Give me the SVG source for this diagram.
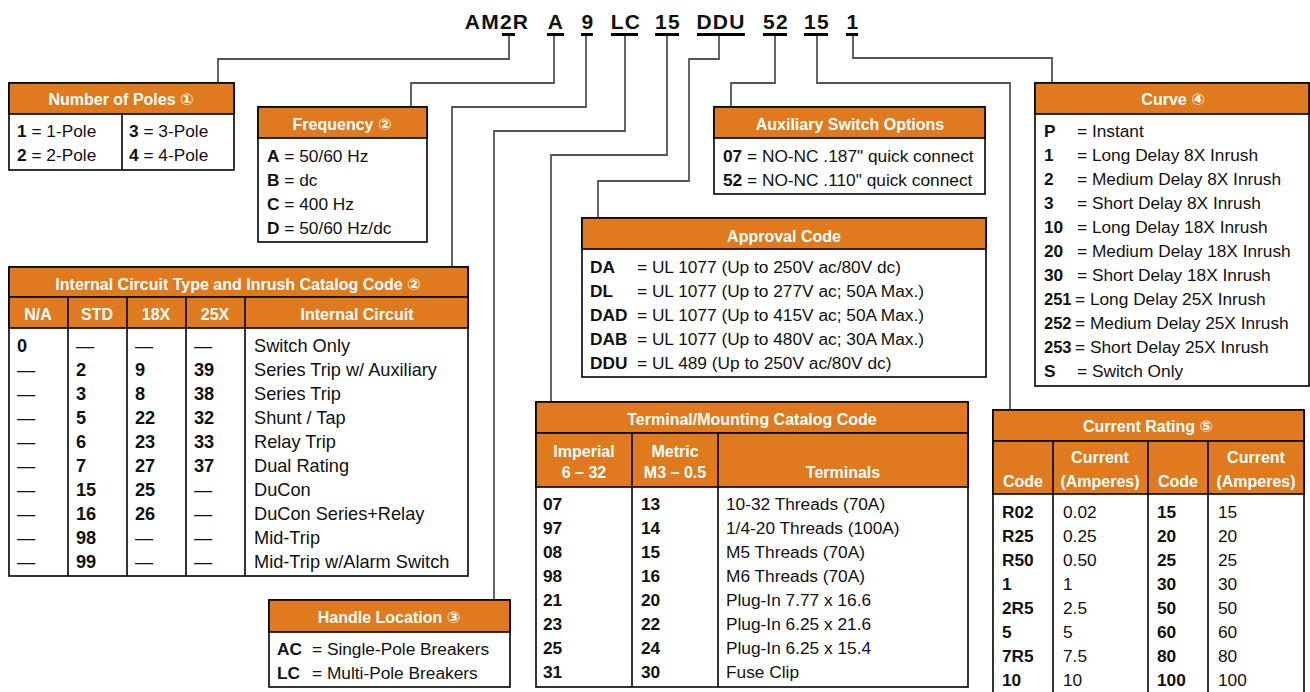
<svg xmlns="http://www.w3.org/2000/svg" width="1310" height="692" viewBox="0 0 1310 692">
<style>
text{font-family:"Liberation Sans","DejaVu Sans",sans-serif;fill:#111}
.t{font-size:17.3px}
.ti{font-size:18.2px}
.b{font-weight:bold}
.h{font-weight:bold;font-size:16px;fill:#fff;text-anchor:middle}
.code{font-weight:bold;font-size:21px;letter-spacing:1.2px;text-anchor:middle}
.box{fill:#fff;stroke:#000;stroke-width:1.6}
.hd{fill:#DF7A1E;stroke:#000;stroke-width:1.6}
.ln{stroke:#000;stroke-width:1.6;fill:none}
.cn{stroke:#555;stroke-width:1.8;fill:none}
.ul{fill:#000}
</style>
<rect width="1310" height="692" fill="#fff"/>

<g id="code">
<text class="code" x="497" y="29">AM2R</text>
<text class="code" x="556" y="29">A</text>
<text class="code" x="588" y="29">9</text>
<text class="code" x="626" y="29">LC</text>
<text class="code" x="668" y="29">15</text>
<text class="code" x="721" y="29">DDU</text>
<text class="code" x="776" y="29">52</text>
<text class="code" x="817" y="29">15</text>
<text class="code" x="853" y="29">1</text>
<rect class="ul" x="502" y="33" width="13" height="3"/>
<rect class="ul" x="547" y="33" width="17" height="3"/>
<rect class="ul" x="581" y="33" width="12" height="3"/>
<rect class="ul" x="611" y="33" width="27" height="3"/>
<rect class="ul" x="655" y="33" width="24" height="3"/>
<rect class="ul" x="697" y="33" width="48" height="3"/>
<rect class="ul" x="763" y="33" width="24" height="3"/>
<rect class="ul" x="804" y="33" width="24" height="3"/>
<rect class="ul" x="846" y="33" width="12" height="3"/>
</g>

<g id="connectors">
<polyline class="cn" points="509,36 509,59 218,59 218,83"/>
<polyline class="cn" points="554,36 554,83 411,83 411,107"/>
<polyline class="cn" points="586,36 586,107 452,107 452,267"/>
<polyline class="cn" points="625,36 625,131 494,131 494,600"/>
<polyline class="cn" points="667,36 667,155 551,155 551,402"/>
<polyline class="cn" points="719,36 719,59 689,59 689,181 598,181 598,218"/>
<polyline class="cn" points="775,36 775,83 731,83 731,107"/>
<polyline class="cn" points="817,36 817,83 1010,83 1010,410"/>
<polyline class="cn" points="853,36 853,58 1052,58 1052,83"/>
</g>

<g id="poles">
<rect class="box" x="9" y="83" width="225" height="87"/>
<rect class="hd" x="9" y="83" width="225" height="31"/>
<line class="ln" x1="122" y1="114" x2="122" y2="170"/>
<text class="h" x="121" y="105">Number of Poles ①</text>
<text class="t" x="17" y="137"><tspan class="b">1</tspan> = 1-Pole</text>
<text class="t" x="17" y="161"><tspan class="b">2</tspan> = 2-Pole</text>
<text class="t" x="129" y="137"><tspan class="b">3</tspan> = 3-Pole</text>
<text class="t" x="129" y="161"><tspan class="b">4</tspan> = 4-Pole</text>
</g>

<g id="frequency">
<rect class="box" x="258" y="107" width="169" height="135"/>
<rect class="hd" x="258" y="107" width="169" height="31"/>
<text class="h" x="342" y="130">Frequency ②</text>
<text class="t" x="267" y="162"><tspan class="b">A</tspan> = 50/60 Hz</text>
<text class="t" x="267" y="186"><tspan class="b">B</tspan> = dc</text>
<text class="t" x="267" y="210"><tspan class="b">C</tspan> = 400 Hz</text>
<text class="t" x="267" y="234"><tspan class="b">D</tspan> = 50/60 Hz/dc</text>
</g>

<g id="internal">
<rect class="box" x="9" y="267" width="459" height="309"/>
<rect class="hd" x="9" y="267" width="459" height="30"/>
<rect class="hd" x="9" y="297" width="459" height="31"/>
<line class="ln" x1="68" y1="297" x2="68" y2="576"/>
<line class="ln" x1="127" y1="297" x2="127" y2="576"/>
<line class="ln" x1="186" y1="297" x2="186" y2="576"/>
<line class="ln" x1="245" y1="297" x2="245" y2="576"/>
<text class="h" x="238" y="290">Internal Circuit Type and Inrush Catalog Code ②</text>
<text class="h" x="38" y="320">N/A</text>
<text class="h" x="97" y="320">STD</text>
<text class="h" x="156" y="320">18X</text>
<text class="h" x="215" y="320">25X</text>
<text class="h" x="357" y="320">Internal Circuit</text>
<g class="ti">
<text x="17" y="352" class="b">0</text><text x="76" y="352">—</text><text x="135" y="352">—</text><text x="194" y="352">—</text><text x="254" y="352">Switch Only</text>
<text x="17" y="376">—</text><text x="76" y="376" class="b">2</text><text x="135" y="376" class="b">9</text><text x="194" y="376" class="b">39</text><text x="254" y="376">Series Trip w/ Auxiliary</text>
<text x="17" y="400">—</text><text x="76" y="400" class="b">3</text><text x="135" y="400" class="b">8</text><text x="194" y="400" class="b">38</text><text x="254" y="400">Series Trip</text>
<text x="17" y="424">—</text><text x="76" y="424" class="b">5</text><text x="135" y="424" class="b">22</text><text x="194" y="424" class="b">32</text><text x="254" y="424">Shunt / Tap</text>
<text x="17" y="448">—</text><text x="76" y="448" class="b">6</text><text x="135" y="448" class="b">23</text><text x="194" y="448" class="b">33</text><text x="254" y="448">Relay Trip</text>
<text x="17" y="472">—</text><text x="76" y="472" class="b">7</text><text x="135" y="472" class="b">27</text><text x="194" y="472" class="b">37</text><text x="254" y="472">Dual Rating</text>
<text x="17" y="496">—</text><text x="76" y="496" class="b">15</text><text x="135" y="496" class="b">25</text><text x="194" y="496">—</text><text x="254" y="496">DuCon</text>
<text x="17" y="520">—</text><text x="76" y="520" class="b">16</text><text x="135" y="520" class="b">26</text><text x="194" y="520">—</text><text x="254" y="520">DuCon Series+Relay</text>
<text x="17" y="544">—</text><text x="76" y="544" class="b">98</text><text x="135" y="544">—</text><text x="194" y="544">—</text><text x="254" y="544">Mid-Trip</text>
<text x="17" y="568">—</text><text x="76" y="568" class="b">99</text><text x="135" y="568">—</text><text x="194" y="568">—</text><text x="254" y="568">Mid-Trip w/Alarm Switch</text>
</g>
</g>

<g id="handle">
<rect class="box" x="269" y="600" width="241" height="87"/>
<rect class="hd" x="269" y="600" width="241" height="32"/>
<text class="h" x="389" y="623">Handle Location ③</text>
<text class="t b" x="277" y="655">AC</text><text class="t" x="312" y="655">= Single-Pole Breakers</text>
<text class="t b" x="277" y="679">LC</text><text class="t" x="312" y="679">= Multi-Pole Breakers</text>
</g>

<g id="auxiliary">
<rect class="box" x="714" y="107" width="271" height="87"/>
<rect class="hd" x="714" y="107" width="271" height="31"/>
<text class="h" x="850" y="130">Auxiliary Switch Options</text>
<text class="t" x="723" y="162"><tspan class="b">07</tspan> = NO-NC .187" quick connect</text>
<text class="t" x="723" y="186"><tspan class="b">52</tspan> = NO-NC .110" quick connect</text>
</g>

<g id="approval">
<rect class="box" x="582" y="218" width="404" height="159"/>
<rect class="hd" x="582" y="218" width="404" height="31"/>
<text class="h" x="784" y="242">Approval Code</text>
<g class="t">
<text x="590" y="273" class="b">DA</text><text x="637" y="273">= UL 1077 (Up to 250V ac/80V dc)</text>
<text x="590" y="297" class="b">DL</text><text x="637" y="297">= UL 1077 (Up to 277V ac; 50A Max.)</text>
<text x="590" y="321" class="b">DAD</text><text x="637" y="321">= UL 1077 (Up to 415V ac; 50A Max.)</text>
<text x="590" y="345" class="b">DAB</text><text x="637" y="345">= UL 1077 (Up to 480V ac; 30A Max.)</text>
<text x="590" y="369" class="b">DDU</text><text x="637" y="369">= UL 489 (Up to 250V ac/80V dc)</text>
</g>
</g>

<g id="terminal">
<rect class="box" x="536" y="402" width="432" height="285"/>
<rect class="hd" x="536" y="402" width="432" height="31"/>
<rect class="hd" x="536" y="433" width="432" height="54"/>
<line class="ln" x1="632" y1="433" x2="632" y2="687"/>
<line class="ln" x1="718" y1="433" x2="718" y2="687"/>
<text class="h" x="752" y="425">Terminal/Mounting Catalog Code</text>
<text class="h" x="584" y="457">Imperial</text>
<text class="h" x="584" y="478">6 – 32</text>
<text class="h" x="675" y="457">Metric</text>
<text class="h" x="675" y="478">M3 – 0.5</text>
<text class="h" x="843" y="478">Terminals</text>
<g class="t">
<text x="543" y="510" class="b">07</text><text x="641" y="510" class="b">13</text><text x="726" y="510">10-32 Threads (70A)</text>
<text x="543" y="534" class="b">97</text><text x="641" y="534" class="b">14</text><text x="726" y="534">1/4-20 Threads (100A)</text>
<text x="543" y="558" class="b">08</text><text x="641" y="558" class="b">15</text><text x="726" y="558">M5 Threads (70A)</text>
<text x="543" y="582" class="b">98</text><text x="641" y="582" class="b">16</text><text x="726" y="582">M6 Threads (70A)</text>
<text x="543" y="606" class="b">21</text><text x="641" y="606" class="b">20</text><text x="726" y="606">Plug-In 7.77 x 16.6</text>
<text x="543" y="630" class="b">23</text><text x="641" y="630" class="b">22</text><text x="726" y="630">Plug-In 6.25 x 21.6</text>
<text x="543" y="654" class="b">25</text><text x="641" y="654" class="b">24</text><text x="726" y="654">Plug-In 6.25 x 15.4</text>
<text x="543" y="678" class="b">31</text><text x="641" y="678" class="b">30</text><text x="726" y="678">Fuse Clip</text>
</g>
</g>

<g id="curve">
<rect class="box" x="1035" y="83" width="274" height="303"/>
<rect class="hd" x="1035" y="83" width="274" height="31"/>
<text class="h" x="1173" y="105">Curve ④</text>
<g class="t">
<text x="1044" y="137" class="b">P</text><text x="1077" y="137">= Instant</text>
<text x="1044" y="161" class="b">1</text><text x="1077" y="161">= Long Delay 8X Inrush</text>
<text x="1044" y="185" class="b">2</text><text x="1077" y="185">= Medium Delay 8X Inrush</text>
<text x="1044" y="209" class="b">3</text><text x="1077" y="209">= Short Delay 8X Inrush</text>
<text x="1044" y="233" class="b">10</text><text x="1077" y="233">= Long Delay 18X Inrush</text>
<text x="1044" y="257" class="b">20</text><text x="1077" y="257">= Medium Delay 18X Inrush</text>
<text x="1044" y="281" class="b">30</text><text x="1077" y="281">= Short Delay 18X Inrush</text>
<text x="1044" y="305" class="b" font-size="16.5">251</text><text x="1075" y="305">= Long Delay 25X Inrush</text>
<text x="1044" y="329" class="b" font-size="16.5">252</text><text x="1075" y="329">= Medium Delay 25X Inrush</text>
<text x="1044" y="353" class="b" font-size="16.5">253</text><text x="1075" y="353">= Short Delay 25X Inrush</text>
<text x="1044" y="377" class="b">S</text><text x="1077" y="377">= Switch Only</text>
</g>
</g>

<g id="current">
<rect class="box" x="993" y="410" width="311" height="290"/>
<rect class="hd" x="993" y="410" width="311" height="31"/>
<rect class="hd" x="993" y="441" width="311" height="53"/>
<line class="ln" x1="1053" y1="441" x2="1053" y2="692"/>
<line class="ln" x1="1148" y1="441" x2="1148" y2="692"/>
<line class="ln" x1="1208" y1="441" x2="1208" y2="692"/>
<text class="h" x="1148" y="432">Current Rating ⑤</text>
<text class="h" x="1023" y="487">Code</text>
<text class="h" x="1100" y="463">Current</text>
<text class="h" x="1100" y="487">(Amperes)</text>
<text class="h" x="1178" y="487">Code</text>
<text class="h" x="1256" y="463">Current</text>
<text class="h" x="1256" y="487">(Amperes)</text>
<g class="t">
<text x="1002" y="518" class="b">R02</text><text x="1063" y="518">0.02</text><text x="1157" y="518" class="b">15</text><text x="1218" y="518">15</text>
<text x="1002" y="542" class="b">R25</text><text x="1063" y="542">0.25</text><text x="1157" y="542" class="b">20</text><text x="1218" y="542">20</text>
<text x="1002" y="566" class="b">R50</text><text x="1063" y="566">0.50</text><text x="1157" y="566" class="b">25</text><text x="1218" y="566">25</text>
<text x="1002" y="590" class="b">1</text><text x="1063" y="590">1</text><text x="1157" y="590" class="b">30</text><text x="1218" y="590">30</text>
<text x="1002" y="614" class="b">2R5</text><text x="1063" y="614">2.5</text><text x="1157" y="614" class="b">50</text><text x="1218" y="614">50</text>
<text x="1002" y="638" class="b">5</text><text x="1063" y="638">5</text><text x="1157" y="638" class="b">60</text><text x="1218" y="638">60</text>
<text x="1002" y="662" class="b">7R5</text><text x="1063" y="662">7.5</text><text x="1157" y="662" class="b">80</text><text x="1218" y="662">80</text>
<text x="1002" y="686" class="b">10</text><text x="1063" y="686">10</text><text x="1157" y="686" class="b">100</text><text x="1218" y="686">100</text>
</g>
</g>
</svg>
